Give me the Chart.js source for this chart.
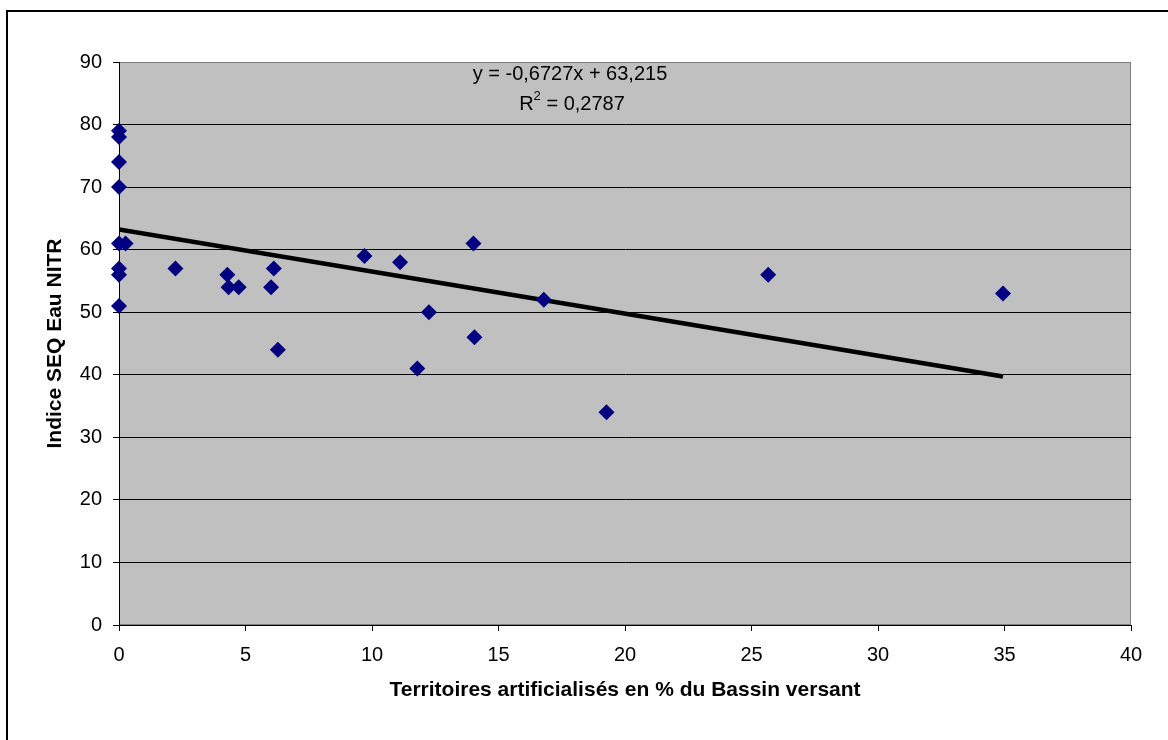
<!DOCTYPE html>
<html>
<head>
<meta charset="utf-8">
<script src="https://cdn.jsdelivr.net/npm/chart.js@4.4.1/dist/chart.umd.min.js"></script>
<style>
  html, body { margin: 0; padding: 0; background: #fff; }
  #wrap { width: 1168px; height: 740px; position: relative; }
</style>
</head>
<body>
<div id="wrap"><canvas id="chart" width="1168" height="740"></canvas></div>
<script>
// % territoires artificialisés (x) vs indice SEQ Eau NITR (y)
const pctArtificial = [0, 0, 0, 0, 0, 0.26, 0, 0, 0,
    2.23, 4.28, 4.33, 4.73, 6.12, 6.01, 6.28,
    9.7, 11.11, 14.01, 12.25, 14.05, 11.79,
    16.79, 19.27, 25.66, 34.94];
const indiceNitr = [79, 78, 74, 70, 61, 61, 57, 56, 51,
    57, 56, 54, 54, 57, 54, 44,
    59, 58, 61, 50, 46, 41,
    52, 34, 56, 53];

// courbe de tendance (Excel)
const trendSlope = -0.6727;
const trendIntercept = 63.215;
const trendText = ['y = -0,6727x + 63,215', 'R', '2', ' = 0,2787'];

const xTitle = 'Territoires artificialisés en % du Bassin versant';
const yTitle = 'Indice SEQ Eau NITR';

const points = pctArtificial.map((x, i) => ({ x: x, y: indiceNitr[i] }));
const xMin = Math.min(...pctArtificial);
const xMax = Math.max(...pctArtificial);
const trend = [
    { x: xMin, y: trendSlope * xMin + trendIntercept },
    { x: xMax, y: trendSlope * xMax + trendIntercept }
];

const FONT = "'Liberation Sans', Arial, sans-serif";

const plotBg = {
    id: 'plotBg',
    beforeDraw(chart) {
        const { ctx, chartArea: a } = chart;
        ctx.save();
        // cadre extérieur
        ctx.strokeStyle = '#000';
        ctx.lineWidth = 2;
        ctx.strokeRect(7, 11, 1200, 800);
        ctx.fillStyle = '#c0c0c0';
        ctx.fillRect(a.left, a.top, a.right - a.left, a.bottom - a.top);
        ctx.strokeStyle = '#808080';
        ctx.lineWidth = 1;
        ctx.strokeRect(a.left + 0.5, a.top + 0.5, a.right - a.left - 1, a.bottom - a.top - 1);
        ctx.restore();
    },
    afterDraw(chart) {
        const { ctx } = chart;
        ctx.save();
        ctx.fillStyle = '#000';
        ctx.textBaseline = 'middle';
        ctx.textAlign = 'center';
        ctx.font = '20px ' + FONT;
        ctx.fillText(trendText[0], 570, 74);
        // R² = 0,2787
        const w1 = ctx.measureText(trendText[1]).width;
        ctx.font = '13px ' + FONT;
        const w2 = ctx.measureText(trendText[2]).width;
        ctx.font = '20px ' + FONT;
        const w3 = ctx.measureText(trendText[3]).width;
        let x = 572 - (w1 + w2 + w3) / 2;
        ctx.textAlign = 'left';
        ctx.fillText(trendText[1], x, 104);
        ctx.font = '13px ' + FONT;
        ctx.fillText(trendText[2], x + w1, 96);
        ctx.font = '20px ' + FONT;
        ctx.fillText(trendText[3], x + w1 + w2, 104);
        ctx.restore();
    }
};

const ctx = document.getElementById('chart').getContext('2d');
const chart = new Chart(ctx, {
    type: 'scatter',
    data: {
        datasets: [
            {
                label: 'Indice',
                data: points,
                pointStyle: 'rectRot',
                pointRadius: 8,
                pointHoverRadius: 8,
                backgroundColor: '#000080',
                borderColor: '#000080',
                borderWidth: 0,
                clip: false,
                order: 1
            },
            {
                type: 'line',
                label: 'Tendance',
                data: trend,
                borderColor: '#000',
                borderWidth: 4.5,
                pointRadius: 0,
                fill: false,
                order: 2
            }
        ]
    },
    options: {
        responsive: false,
        animation: false,
        layout: { padding: { top: 62, right: 37, left: 0, bottom: 0 } },
        plugins: {
            legend: { display: false },
            tooltip: { enabled: false }
        },
        scales: {
            x: {
                type: 'linear',
                min: 0,
                max: 40,
                afterFit(scale) { scale.height = 115; },
                ticks: {
                    stepSize: 5,
                    color: '#000',
                    padding: 12,
                    maxRotation: 0,
                    font: { family: FONT, size: 20 }
                },
                grid: {
                    drawOnChartArea: false,
                    drawTicks: true,
                    tickLength: 6,
                    tickColor: '#000'
                },
                border: { color: '#000', width: 1 },
                title: {
                    display: true,
                    text: xTitle,
                    color: '#000',
                    font: { family: FONT, size: 21, weight: 'bold' },
                    padding: { top: 4, bottom: 37 }
                }
            },
            y: {
                min: 0,
                max: 90,
                afterFit(scale) { scale.width = 119; },
                ticks: {
                    stepSize: 10,
                    color: '#000',
                    padding: 11,
                    font: { family: FONT, size: 20 }
                },
                grid: {
                    color: (c) => (c.tick && c.tick.value === 90 ? '#808080' : '#000'),
                    lineWidth: 1,
                    tickLength: 6,
                    tickColor: '#000'
                },
                border: { color: '#000', width: 1 },
                title: {
                    display: true,
                    text: yTitle,
                    color: '#000',
                    font: { family: FONT, size: 21, weight: 'bold' },
                    padding: { top: 43, bottom: 4 }
                }
            }
        }
    },
    plugins: [plotBg]
});
</script>
</body>
</html>
